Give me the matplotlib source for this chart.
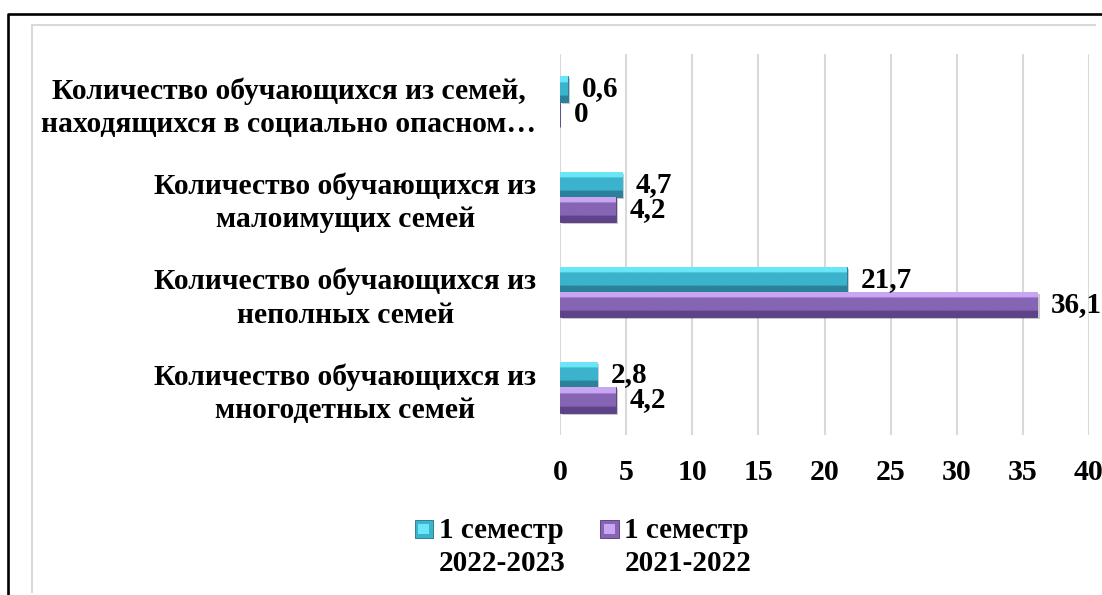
import numpy as np
import matplotlib
matplotlib.use("Agg")
import matplotlib.pyplot as plt
from matplotlib.lines import Line2D
from matplotlib.patches import Rectangle
from matplotlib.legend_handler import HandlerBase
from matplotlib.colors import LinearSegmentedColormap
import matplotlib.patheffects as pe

# ---- data ----
categories = [
    "Количество обучающихся из семей,\nнаходящихся в социально опасном…",
    "Количество обучающихся из\nмалоимущих семей",
    "Количество обучающихся из\nнеполных семей",
    "Количество обучающихся из\nмногодетных семей",
]
series_names = ["1 семестр\n2022-2023", "1 семестр\n2021-2022"]
values_2022_2023 = [0.6, 4.7, 21.7, 2.8]
values_2021_2022 = [0.0, 4.2, 36.1, 4.2]
x_ticks = [0, 5, 10, 15, 20, 25, 30, 35, 40]

# ---- style ----
W, H = 1102, 595
DPI = 100
FONT = "Liberation Serif"
teal = dict(light="#6ae6f7", base="#3bb3cc", dark="#2a8199", edge="#23708a")
purple = dict(light="#c9a6f2", base="#8565b4", dark="#5f438a", edge="#4f3775")

plt.rcParams["font.family"] = [FONT, "DejaVu Serif"]
plt.rcParams["font.weight"] = "bold"

fig = plt.figure(figsize=(W / DPI, H / DPI), dpi=DPI)
fig.patch.set_facecolor("white")


def fx(px):
    return px / W


def fy(py):
    return 1 - py / H


ax = fig.add_axes([fx(560), fy(435), fx(1089) - fx(560), fy(54) - fy(435)])

y = np.arange(len(categories))
h = 0.265

bars_a = ax.barh(y - h / 2, values_2022_2023, height=h, color=teal["base"],
                 edgecolor=teal["edge"], linewidth=0.6, zorder=3,
                 label=series_names[0])
bars_b = ax.barh(y + h / 2, values_2021_2022, height=h, color=purple["base"],
                 edgecolor=purple["edge"], linewidth=0.6, zorder=3,
                 label=series_names[1])


def bevel(bars, pal):
    cmap = LinearSegmentedColormap.from_list(
        "g", [(0, pal["light"]), (0.22, pal["light"]), (0.26, pal["base"]),
              (0.74, pal["base"]), (0.78, pal["dark"]), (1, pal["dark"])])
    grad = np.linspace(0, 1, 64).reshape(-1, 1)
    for b in bars:
        b.set_path_effects([pe.SimplePatchShadow(offset=(1.5, -1.5), alpha=0.25),
                            pe.Normal()])
        if b.get_width() <= 0:
            continue
        x0, y0 = b.get_x(), b.get_y()
        x1, y1 = x0 + b.get_width(), y0 + b.get_height()
        im = ax.imshow(grad, cmap=cmap, aspect="auto",
                       extent=(x0, x1, y1, y0), origin="upper", zorder=3.5)
        im.set_clip_path(b)


bevel(bars_a, teal)
bevel(bars_b, purple)


def fmt(v):
    return "{:g}".format(v).replace(".", ",")


for bars, vals in ((bars_a, values_2022_2023), (bars_b, values_2021_2022)):
    for b, v in zip(bars, vals):
        ax.annotate(fmt(v), xy=(b.get_width(), b.get_y() + b.get_height() / 2),
                    xytext=(10, 0), textcoords="offset points",
                    ha="left", va="center", fontsize=21, fontweight="bold",
                    annotation_clip=False, zorder=5)

ax.set_xlim(0, 40)
ax.set_ylim(len(categories) - 0.5, -0.5)
ax.set_xticks(x_ticks)
ax.set_xticklabels([str(t) for t in x_ticks], fontsize=21.5, fontweight="bold")
ax.set_yticks(y)
ax.set_yticklabels(categories, fontsize=21.3, fontweight="bold")
for lab in ax.get_yticklabels():
    lab.set_multialignment("center")
    lab.set_linespacing(1.3)
ax.tick_params(axis="y", length=0, pad=17)
ax.tick_params(axis="x", length=0, pad=17)
ax.grid(axis="x", color="#d9d9d9", linewidth=1.5, zorder=0)
ax.set_axisbelow(True)
for s in ax.spines.values():
    s.set_visible(False)
ax.set_facecolor("none")


class TopHandler(HandlerBase):
    def __init__(self, pal, **kw):
        super().__init__(**kw)
        self.pal = pal

    def create_artists(self, legend, orig_handle, xdescent, ydescent, width,
                       height, fontsize, trans):
        r = Rectangle((-xdescent, -ydescent + 0.62 * fontsize), width, height,
                      facecolor=self.pal["base"], edgecolor=self.pal["edge"],
                      linewidth=0.6, transform=trans)
        r2 = Rectangle((-xdescent + width * 0.2, -ydescent + 0.62 * fontsize + height * 0.2),
                       width * 0.6, height * 0.6,
                       facecolor=self.pal["light"], edgecolor="none", transform=trans)
        return [r, r2]


leg = fig.legend(handles=[bars_a, bars_b], labels=series_names,
                 handler_map={bars_a: TopHandler(teal), bars_b: TopHandler(purple)},
                 loc="center", bbox_to_anchor=(fx(583), fy(547)), ncol=2,
                 frameon=False, prop=dict(family=FONT, weight="bold", size=21),
                 handlelength=0.62, handleheight=0.55, handletextpad=0.2,
                 columnspacing=1.2, borderpad=0, labelspacing=0.2)
for t in leg.get_texts():
    t.set_linespacing(1.25)

# frames
fig.add_artist(Line2D([fx(8), fx(8), fx(W)], [fy(H), fy(14), fy(14)],
                      color="black", linewidth=1.9, transform=fig.transFigure))
fig.add_artist(Line2D([fx(32), fx(32), fx(1095)], [fy(592), fy(25), fy(25)],
                      color="#d9d9d9", linewidth=1.5, transform=fig.transFigure))

fig.savefig("out.png", dpi=DPI)
